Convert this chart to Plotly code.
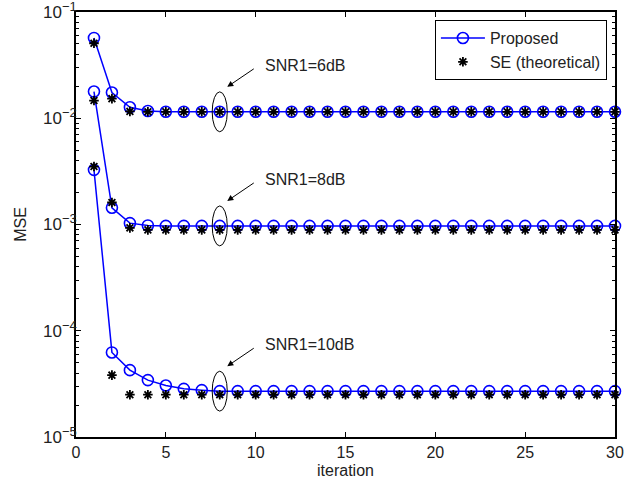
import math
import plotly.graph_objects as go

iterations = [1, 2, 3, 4, 5, 6, 7, 8, 9, 10, 11, 12, 13, 14, 15,
              16, 17, 18, 19, 20, 21, 22, 23, 24, 25, 26, 27, 28, 29, 30]

prop_6db = [0.0570, 0.01745, 0.0127, 0.0117, 0.0115, 0.0115, 0.0115, 0.0115, 0.0115, 0.0115,
            0.0115, 0.0115, 0.0115, 0.0115, 0.0115, 0.0115, 0.0115, 0.0115, 0.0115, 0.0115,
            0.0115, 0.0115, 0.0115, 0.0115, 0.0115, 0.0115, 0.0115, 0.0115, 0.0115, 0.0115]
se_6db = [0.0508, 0.0153, 0.0116, 0.0115, 0.0115, 0.0115, 0.0115, 0.0115, 0.0115, 0.0115,
          0.0115, 0.0115, 0.0115, 0.0115, 0.0115, 0.0115, 0.0115, 0.0115, 0.0115, 0.0115,
          0.0115, 0.0115, 0.0115, 0.0115, 0.0115, 0.0115, 0.0115, 0.0115, 0.0115, 0.0115]

prop_8db = [0.01783, 0.001436, 0.00103, 0.00098, 0.00097, 0.00097, 0.00097, 0.00097, 0.00097, 0.00097,
            0.00097, 0.00097, 0.00097, 0.00097, 0.00097, 0.00097, 0.00097, 0.00097, 0.00097, 0.00097,
            0.00097, 0.00097, 0.00097, 0.00097, 0.00097, 0.00097, 0.00097, 0.00097, 0.00097, 0.00097]
se_8db = [0.01467, 0.00161, 0.00093, 0.00089, 0.00089, 0.00089, 0.00089, 0.00089, 0.00089, 0.00089,
          0.00089, 0.00089, 0.00089, 0.00089, 0.00089, 0.00089, 0.00089, 0.00089, 0.00089, 0.00089,
          0.00089, 0.00089, 0.00089, 0.00089, 0.00089, 0.00089, 0.00089, 0.00089, 0.00089, 0.00089]

prop_10db = [0.00327, 6.25e-5, 4.26e-5, 3.43e-5, 3.05e-5, 2.84e-5, 2.76e-5, 2.70e-5, 2.70e-5, 2.70e-5,
             2.70e-5, 2.70e-5, 2.70e-5, 2.70e-5, 2.70e-5, 2.70e-5, 2.70e-5, 2.70e-5, 2.70e-5, 2.70e-5,
             2.70e-5, 2.70e-5, 2.70e-5, 2.70e-5, 2.70e-5, 2.70e-5, 2.70e-5, 2.70e-5, 2.70e-5, 2.70e-5]
se_10db = [0.00351, 3.82e-5, 2.50e-5, 2.50e-5, 2.50e-5, 2.50e-5, 2.50e-5, 2.50e-5, 2.50e-5, 2.50e-5,
           2.50e-5, 2.50e-5, 2.50e-5, 2.50e-5, 2.50e-5, 2.50e-5, 2.50e-5, 2.50e-5, 2.50e-5, 2.50e-5,
           2.50e-5, 2.50e-5, 2.50e-5, 2.50e-5, 2.50e-5, 2.50e-5, 2.50e-5, 2.50e-5, 2.50e-5, 2.50e-5]

snr_labels = ["SNR1=6dB", "SNR1=8dB", "SNR1=10dB"]
legend_names = ["Proposed", "SE (theoretical)"]
x_ticks = [0, 5, 10, 15, 20, 25, 30]
y_ticks = [1e-5, 1e-4, 1e-3, 1e-2, 1e-1]
y_exponents = ["−5", "−4", "−3", "−2", "−1"]
marked_iteration = 8

FONT = "Liberation Sans, Arial, Helvetica, sans-serif"
TXT = "#222222"

y_ticktext = ["10<sup><span style='font-size:13px'>%s</span></sup>" % e for e in y_exponents]

fig = go.Figure()

groups = [(prop_6db, se_6db), (prop_8db, se_8db), (prop_10db, se_10db)]
for i, (p, s) in enumerate(groups):
    fig.add_trace(go.Scatter(
        x=iterations, y=p, mode="lines+markers", name=legend_names[0],
        legendgroup="prop", showlegend=(i == 0),
        line=dict(color="#0000ff", width=1.5),
        marker=dict(symbol="circle-open", size=11, color="#0000ff", line=dict(width=1.6, color="#0000ff")),
        cliponaxis=False,
    ))
for i, (p, s) in enumerate(groups):
    fig.add_trace(go.Scatter(
        x=iterations, y=s, mode="markers", name=legend_names[1],
        legendgroup="se", showlegend=(i == 0),
        marker=dict(symbol="asterisk-open", size=8, color="black", line=dict(width=1.8, color="black")),
        cliponaxis=False,
    ))

idx = iterations.index(marked_iteration)
shapes = []
annotations = []
for (p, s), label in zip(groups, snr_labels):
    level = p[idx]
    shapes.append(dict(
        type="circle", xref="x", yref="y",
        x0=marked_iteration - 0.42, x1=marked_iteration + 0.42,
        y0=level / 10 ** 0.188, y1=level * 10 ** 0.188,
        line=dict(color="black", width=1),
    ))
    lg = math.log10(level)
    annotations.append(dict(
        x=marked_iteration + 0.42, y=lg + 0.235, xref="x", yref="y",
        text="", showarrow=True, arrowhead=2, arrowsize=1.2, arrowwidth=1,
        arrowcolor="black", ax=28, ay=-19, axref="pixel", ayref="pixel",
    ))
    annotations.append(dict(
        x=marked_iteration + 2.4, y=lg + 0.44, xref="x", yref="y",
        text=label, showarrow=False, xanchor="left", yanchor="middle",
        font=dict(family=FONT, size=16, color=TXT),
    ))

minor_vals = []
for e in range(-5, -1 + 1):
    for m in range(2, 10):
        v = m * 10 ** (e - 1)
        if 1e-5 < v < 1e-1:
            minor_vals.append(v)

fig.update_layout(
    width=641, height=483,
    margin=dict(l=76, r=26, t=12, b=46),
    paper_bgcolor="white", plot_bgcolor="white",
    font=dict(family=FONT, size=15, color=TXT),
    showlegend=True,
    legend=dict(
        x=0.985, y=0.981, xanchor="right", yanchor="top",
        bordercolor="black", borderwidth=1, bgcolor="white",
        font=dict(family=FONT, size=16, color=TXT),
        tracegroupgap=0, itemwidth=44,
    ),
    shapes=shapes,
    annotations=annotations,
    xaxis=dict(
        range=[0, 30], tickvals=x_ticks, ticks="inside", ticklen=5,
        tickcolor="black", showline=True, linecolor="black", linewidth=1.5,
        mirror="ticks", showgrid=False, zeroline=False, automargin=False,
        title=dict(text="iteration", font=dict(family=FONT, size=16, color=TXT), standoff=5),
        tickfont=dict(family=FONT, size=16, color=TXT),
        ticklabelstandoff=0, ticklabeloverflow="allow",
    ),
    yaxis=dict(
        type="log", range=[-5, -1], tickvals=y_ticks, ticktext=y_ticktext,
        ticks="inside", ticklen=5, tickcolor="black",
        showline=True, linecolor="black", linewidth=1.5,
        mirror="ticks", showgrid=False, zeroline=False, automargin=False,
        minor=dict(tickvals=minor_vals, ticks="inside", ticklen=3, tickcolor="black", showgrid=False),
        title=dict(text="MSE", font=dict(family=FONT, size=16, color=TXT), standoff=12),
        tickfont=dict(family=FONT, size=17, color=TXT),
        ticklabelstandoff=-6, ticklabeloverflow="allow",
    ),
)

fig.write_html("out.html", config={"displayModeBar": False},
               post_script="document.body.style.margin='0';")
